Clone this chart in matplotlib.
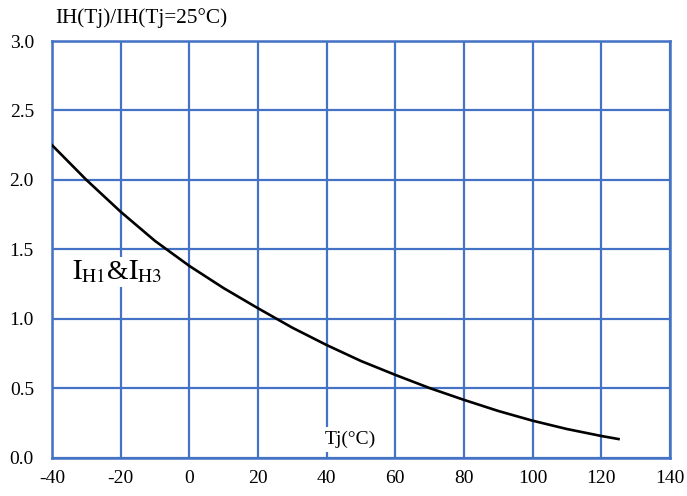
import matplotlib
matplotlib.use("Agg")
import matplotlib.pyplot as plt

plt.rcParams['font.family'] = ['Liberation Serif', 'DejaVu Serif']
plt.rcParams['mathtext.fontset'] = 'stix'

# 接合部温度と保持電流の比 IH(Tj)/IH(25℃)
tj = [-40, -30, -20, -10, 0, 10, 20, 30, 40, 50, 60, 70, 80, 90, 100, 110, 120, 125]
ih_ratio = [2.25, 2.00, 1.77, 1.56, 1.38, 1.22, 1.075, 0.935, 0.81, 0.695, 0.595,
            0.50, 0.415, 0.335, 0.265, 0.205, 0.155, 0.133]

x_ticks = [-40, -20, 0, 20, 40, 60, 80, 100, 120, 140]
y_ticks = [0.0, 0.5, 1.0, 1.5, 2.0, 2.5, 3.0]

grid_color = '#4472C4'

fig = plt.figure(figsize=(6.87, 4.96), dpi=100)
ax = fig.add_axes([0.0757, 0.0776, 0.8996, 0.8397])

ax.plot(tj, ih_ratio, color='black', linewidth=1.9, zorder=3)

ax.set_xlim(-40, 140)
ax.set_ylim(0, 3)
ax.set_xticks(x_ticks)
ax.set_yticks(y_ticks)
ax.set_xticklabels([str(v) for v in x_ticks])
ax.set_yticklabels(['%.1f' % v for v in y_ticks])
ax.tick_params(length=0, labelsize=14)
ax.tick_params(axis='x', pad=9)
ax.tick_params(axis='y', pad=13)

ax.grid(True, color=grid_color, linewidth=1.6)
ax.set_axisbelow(True)
for s in ax.spines.values():
    s.set_color(grid_color)
    s.set_linewidth(1.8)

# ラベル（白背景でグリッドを隠す）
fig.text(0.08, 0.963, 'IH(Tj)/IH(Tj=25°C)', fontsize=15.3, ha='left', va='center')
ax.text(47, 0.13, 'Tj(°C)', fontsize=14, ha='center', va='center',
        bbox=dict(facecolor='white', edgecolor='none', pad=3), zorder=2)
ax.text(-21, 1.335, r'$\mathrm{I}_{\mathrm{H1}}$&$\mathrm{I}_{\mathrm{H3}}$', fontsize=20,
        ha='center', va='center',
        bbox=dict(facecolor='white', edgecolor='none', pad=1), zorder=2)

fig.savefig('out.png', dpi=100)
